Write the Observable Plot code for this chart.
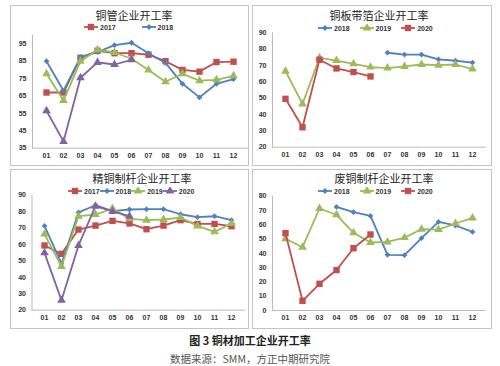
<!DOCTYPE html>
<html><head><meta charset="utf-8">
<script src="https://cdn.jsdelivr.net/npm/d3@7"></script>
<script src="https://cdn.jsdelivr.net/npm/@observablehq/plot@0.6"></script>
<style>
body{margin:0;background:#fff;}
#page{position:relative;width:500px;height:366px;background:#fff;overflow:hidden;font-family:"Liberation Sans",Arial,sans-serif;}
.box{position:absolute;border:1px solid #c4c4c4;box-sizing:border-box;}
.plotwrap{position:absolute;}
.title{position:absolute;font-family:"Noto Sans CJK SC",sans-serif;font-size:11px;color:#222;transform:translate(-50%,-50%);white-space:nowrap;}
.legend{position:absolute;display:flex;align-items:center;font-size:7px;font-weight:bold;color:#333;transform:translateY(-50%);white-space:nowrap;}
.legend .item{display:flex;align-items:center;}
.legend svg{margin-right:2px;}
.cap{position:absolute;left:0;width:500px;text-align:center;font-family:"Noto Sans CJK SC",sans-serif;transform:translateY(-50%);}
</style></head>
<body><div id="page"></div>
<script>
const months = ["01","02","03","04","05","06","07","08","09","10","11","12"];

// 铜管企业开工率
const pipe2017 = [67, 67, 87, 91, 89.6, 89.6, 88.7, 85, 80, 79, 84.5, 84.7];
const pipe2018 = [85, 68, 87.3, 90.2, 94.2, 95.6, 89.6, 84, 72, 64.2, 72, 74.7];
const pipe2019 = [77.8, 62.4, 85, 91.6, 90, 86.4, 80, 73.2, 77.8, 73.8, 74.3, 76.6];
const pipe2020 = [56.5, 38.9, 75.5, 84.3, 83.1, 85.8, null, null, null, null, null, null];
const pipeTicks = [35, 45, 55, 65, 75, 85, 95];

// 铜板带箔企业开工率
const plate2018 = [null, null, null, null, null, null, 77.8, 76.7, 76.7, 73.7, 72.9, 71.8];
const plate2019 = [66.5, 46.5, 74.7, 73, 71, 69, 68.4, 69.4, 70.6, 70.2, 70.6, 67.8];
const plate2020 = [49.6, 32.2, 73.5, 68.2, 66, 63.3, null, null, null, null, null, null];
const plateTicks = [20, 30, 40, 50, 60, 70, 80, 90];

// 精铜制杆企业开工率
const rod2017 = [59.4, 54.3, 69.1, 71.5, 74.4, 72.8, 69.3, 71.5, 74.8, 72.5, 72.5, 71.1];
const rod2018 = [71.3, 48.4, 79.5, 83.9, 80.3, 81.3, 81.5, 81.5, 78.4, 76.6, 77.2, 74.8];
const rod2019 = [66.3, 46.6, 77.2, 78.2, 81.9, 75.6, 74.8, 75.2, 76.4, 71.3, 67.7, 72.8];
const rod2020 = [54.9, 26, 59.4, 83.3, 80.1, 77.2, null, null, null, null, null, null];
const rodTicks = [20, 30, 40, 50, 60, 70, 80, 90];

// 废铜制杆企业开工率
const scrap2018 = [null, null, null, 72.5, 68.8, 66.2, 39, 38.7, 50.6, 62, 59.5, 55];
const scrap2019 = [50.2, 44.3, 71.4, 67, 54.4, 47.6, 48, 51, 56.9, 56.6, 60.9, 64.8];
const scrap2020 = [54.1, 6.8, 18.7, 28.3, 43.6, 53.2, null, null, null, null, null, null];
const scrapTicks = [0, 10, 20, 30, 40, 50, 60, 70, 80];

const RED = "#C0504D", BLUE = "#4F81BD", GREEN = "#9BBB59", PURPLE = "#8064A2";
const AXIS = "#bcbcbc";

const sty = {
  "2017": {color: RED, symbol: "square", r: 3.6},
  "2018": {color: BLUE, symbol: "diamond2", r: 2.6},
  "2019": {color: GREEN, symbol: "triangle", r: 3.2},
  "2020p": {color: PURPLE, symbol: "triangle", r: 3.2},
  "2020r": {color: RED, symbol: "square", r: 3.6}
};

const panels = [
  {title: "铜管企业开工率", box: [10, 5, 239, 161], margins: [29.6, 2, 18.3, 22], yDomain: [35, 100], ticks: pipeTicks,
   titlePos: [134, 15], legendPos: [84, 27], legendGap: 26,
   series: [{year: "2017", values: pipe2017, s: "2017"}, {year: "2018", values: pipe2018, s: "2018"},
            {year: "2019", values: pipe2019, s: "2019"}, {year: "2020", values: pipe2020, s: "2020p"}],
   legend: ["2017", "2018"]},
  {title: "铜板带箔企业开工率", box: [252, 5, 240, 161], margins: [27.3, 7, 19.3, 20], yDomain: [20, 90], ticks: plateTicks,
   titlePos: [379, 15], legendPos: [318, 28], legendGap: 10,
   series: [{year: "2018", values: plate2018, s: "2018"}, {year: "2019", values: plate2019, s: "2019"},
            {year: "2020", values: plate2020, s: "2020r"}],
   legend: ["2018", "2019", "2020"]},
  {title: "精铜制杆企业开工率", box: [10, 169, 239, 160], margins: [25.7, 5, 19.3, 21.5], yDomain: [20, 90], ticks: rodTicks,
   titlePos: [142, 178], legendPos: [68, 191], legendGap: 0,
   series: [{year: "2017", values: rod2017, s: "2017"}, {year: "2018", values: rod2018, s: "2018"},
            {year: "2019", values: rod2019, s: "2019"}, {year: "2020", values: rod2020, s: "2020p"}],
   legend: ["2017", "2018", "2019", "2020"]},
  {title: "废铜制杆企业开工率", box: [252, 169, 240, 160], margins: [26.7, 7.5, 19, 20], yDomain: [0, 80], ticks: scrapTicks,
   titlePos: [384, 178], legendPos: [318, 191], legendGap: 10,
   series: [{year: "2018", values: scrap2018, s: "2018"}, {year: "2019", values: scrap2019, s: "2019"},
            {year: "2020", values: scrap2020, s: "2020r"}],
   legend: ["2018", "2019", "2020"]}
];

const page = document.getElementById("page");

function swatch(st) {
  const ns = "http://www.w3.org/2000/svg";
  const svg = document.createElementNS(ns, "svg");
  svg.setAttribute("width", 14); svg.setAttribute("height", 8);
  const line = document.createElementNS(ns, "line");
  line.setAttribute("x1", 0); line.setAttribute("x2", 14); line.setAttribute("y1", 4); line.setAttribute("y2", 4);
  line.setAttribute("stroke", st.color); line.setAttribute("stroke-width", 1.8);
  svg.appendChild(line);
  const sym = {square: d3.symbolSquare, diamond2: d3.symbolDiamond2, triangle: d3.symbolTriangle}[st.symbol];
  const p = document.createElementNS(ns, "path");
  p.setAttribute("d", d3.symbol(sym, st.r * st.r * Math.PI)());
  p.setAttribute("transform", "translate(7,4)");
  p.setAttribute("fill", st.color);
  svg.appendChild(p);
  return svg;
}

for (const pn of panels) {
  const [bx, by, bw, bh] = pn.box;
  const box = document.createElement("div");
  box.className = "box";
  Object.assign(box.style, {left: bx + "px", top: by + "px", width: bw + "px", height: bh + "px"});
  page.appendChild(box);

  const marks = [
    Plot.frame({anchor: "left", stroke: AXIS}),
    Plot.frame({anchor: "bottom", stroke: AXIS}),
    Plot.axisY({ticks: pn.ticks, tickSize: 0, tickPadding: 6, fill: "#333"}),
    Plot.axisX({tickSize: 0, tickPadding: 5, fill: "#333"})
  ];
  for (const se of pn.series) {
    const st = sty[se.s];
    const d = se.values.map((v, i) => ({month: months[i], value: v}));
    marks.push(Plot.line(d, {x: "month", y: "value", stroke: st.color, strokeWidth: 1.8}));
    marks.push(Plot.dot(d.filter(r => r.value != null), {x: "month", y: "value", symbol: st.symbol, fill: st.color, r: st.r, stroke: "none"}));
  }
  const [mt, mr, mb, ml] = pn.margins;
  const chart = Plot.plot({
    width: bw, height: bh,
    marginTop: mt, marginRight: mr, marginBottom: mb, marginLeft: ml,
    x: {type: "point", domain: months, padding: 0.5, label: null},
    y: {domain: pn.yDomain, label: null},
    style: {fontSize: "7px", fontWeight: "bold", fontFamily: "'Liberation Sans', Arial, sans-serif", background: "transparent", overflow: "visible"},
    marks
  });
  const wrap = document.createElement("div");
  wrap.className = "plotwrap";
  Object.assign(wrap.style, {left: bx + "px", top: by + "px", width: bw + "px", height: bh + "px"});
  wrap.appendChild(chart);
  page.appendChild(wrap);

  const t = document.createElement("div");
  t.className = "title";
  t.textContent = pn.title;
  t.style.left = pn.titlePos[0] + "px"; t.style.top = pn.titlePos[1] + "px";
  page.appendChild(t);

  const lg = document.createElement("div");
  lg.className = "legend";
  lg.style.left = pn.legendPos[0] + "px"; lg.style.top = pn.legendPos[1] + "px";
  lg.style.gap = pn.legendGap + "px";
  for (const y of pn.legend) {
    const se = pn.series.find(s => s.year === y);
    const it = document.createElement("div");
    it.className = "item";
    it.appendChild(swatch(sty[se.s]));
    const sp = document.createElement("span");
    sp.textContent = y;
    it.appendChild(sp);
    lg.appendChild(it);
  }
  page.appendChild(lg);
}

const c1 = document.createElement("div");
c1.className = "cap";
c1.style.top = "340px"; c1.style.fontSize = "11px"; c1.style.fontWeight = "bold"; c1.style.color = "#222";
c1.textContent = "图 3 铜材加工企业开工率";
page.appendChild(c1);
const c2 = document.createElement("div");
c2.className = "cap";
c2.style.top = "358px"; c2.style.fontSize = "10.5px"; c2.style.color = "#555";
c2.textContent = "数据来源：SMM，方正中期研究院";
page.appendChild(c2);
</script></body></html>
